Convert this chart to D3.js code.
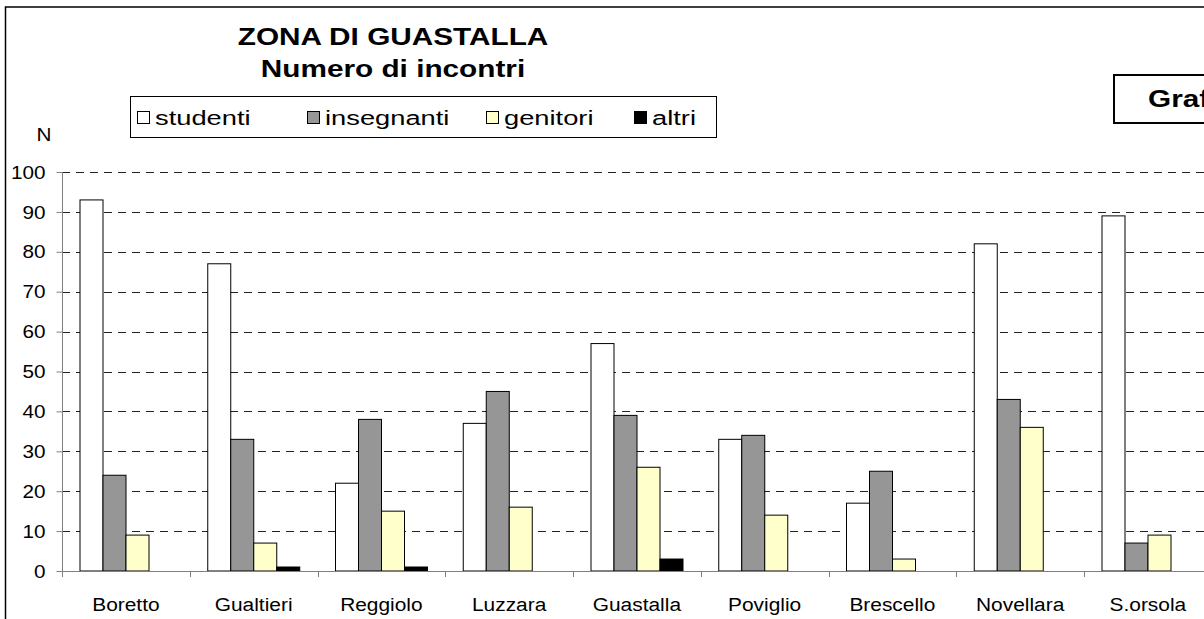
<!DOCTYPE html>
<html>
<head>
<meta charset="utf-8">
<script src="https://cdn.jsdelivr.net/npm/d3@7"></script>
<style>
  html, body { margin: 0; padding: 0; background: #fff; overflow: hidden; }
  svg { display: block; font-family: "Liberation Sans", Arial, sans-serif; }
</style>
</head>
<body>
<svg id="chart" width="1204" height="619"></svg>
<script>
// ---- data ----
const categories = ["Boretto", "Gualtieri", "Reggiolo", "Luzzara", "Guastalla", "Poviglio", "Brescello", "Novellara", "S.orsola"];
const seriesNames = ["studenti", "insegnanti", "genitori", "altri"];
const studenti    = [93, 77, 22, 37, 57, 33, 17, 82, 89];
const insegnanti  = [24, 33, 38, 45, 39, 34, 25, 43, 7];
const genitori    = [9, 7, 15, 16, 26, 14, 3, 36, 9];
const altri       = [0, 1, 1, 0, 3, 0, 0, 0, 0];
const yTicks      = [0, 10, 20, 30, 40, 50, 60, 70, 80, 90, 100];
const titleLines  = ["ZONA DI GUASTALLA", "Numero di incontri"];
const yAxisLabel  = "N";
const boxLabel    = "Grafico";

const seriesValues = [studenti, insegnanti, genitori, altri];
const colors = ["#FFFFFF", "#969696", "#FFFFCC", "#000000"];

// ---- layout ----
const svg = d3.select("#chart");
const band = 127.75;
const x0 = 62, yBase = 571, yTop = 172;

const x = d3.scaleBand().domain(categories).range([x0, x0 + band * categories.length]).paddingInner(0).paddingOuter(0);
const x1 = d3.scaleBand().domain(seriesNames).range([18, 110]).padding(0);
const y = d3.scaleLinear().domain([0, 100]).range([yBase, yTop]);

// outer frame
svg.append("rect").attr("x", 5.5).attr("y", 7).attr("width", 1300).attr("height", 700)
  .attr("fill", "none").attr("stroke", "#000").attr("stroke-width", 1.5);

// gridlines
svg.append("g").selectAll("line").data(yTicks.filter(d => d > 0)).join("line")
  .attr("x1", x0).attr("x2", 1204)
  .attr("y1", d => Math.round(y(d)) + 0.5).attr("y2", d => Math.round(y(d)) + 0.5)
  .attr("stroke", "#222").attr("stroke-width", 1).attr("stroke-dasharray", "8,6");

// bars
const groups = svg.append("g").selectAll("g").data(categories).join("g")
  .attr("transform", d => `translate(${x(d)},0)`);
groups.selectAll("rect").data((c, i) => seriesNames.map((s, k) => ({ s, v: seriesValues[k][i], k })))
  .join("rect")
  .filter(d => d.v > 0)
  .attr("x", d => x1(d.s))
  .attr("y", d => y(d.v))
  .attr("width", x1.bandwidth())
  .attr("height", d => yBase - y(d.v))
  .attr("fill", d => colors[d.k])
  .attr("stroke", "#000").attr("stroke-width", 1);

// y axis
const yAxis = svg.append("g").attr("transform", `translate(${x0 + 0.5},0)`)
  .call(d3.axisLeft(y).tickValues(yTicks).tickSize(6).tickPadding(11).tickSizeOuter(0));
yAxis.select(".domain").attr("stroke", "#808080").attr("d", `M0,${yTop}V${yBase + 6}`);
yAxis.selectAll(".tick line").attr("stroke", "#808080");
yAxis.selectAll(".tick text")
  .attr("font-size", 18).attr("fill", "#000")
  .attr("font-family", "Liberation Sans, Arial, sans-serif")
  .attr("transform", "scale(1.15,1)")
  .attr("x", -17 / 1.15).attr("dy", "0.34em");

// x axis
const xAxis = svg.append("g").attr("transform", `translate(0,${yBase + 0.5})`)
  .call(d3.axisBottom(x).tickSize(0).tickPadding(0).tickSizeOuter(0));
xAxis.select(".domain").attr("stroke", "#808080").attr("d", `M${x0},0H1204`);
xAxis.selectAll(".tick text")
  .attr("font-size", 19).attr("fill", "#000")
  .attr("font-family", "Liberation Sans, Arial, sans-serif")
  .attr("y", 0).attr("dy", 0)
  .attr("transform", "translate(0,39) scale(1.1,1)");
// boundary ticks
svg.append("g").selectAll("line").data(categories.map(c => x(c)).concat([x0 + band * categories.length]))
  .join("line")
  .attr("x1", d => Math.round(d) + 0.5).attr("x2", d => Math.round(d) + 0.5)
  .attr("y1", yBase).attr("y2", yBase + 6)
  .attr("stroke", "#808080");

// y axis label
svg.append("text").attr("transform", "translate(44,141) scale(1.15,1)")
  .attr("text-anchor", "middle").attr("font-size", 18).text(yAxisLabel);

// title
svg.append("g").selectAll("text").data(titleLines).join("text")
  .attr("transform", (d, i) => `translate(393,${45 + i * 32}) scale(1.24,1)`)
  .attr("text-anchor", "middle").attr("font-size", 24).attr("font-weight", "bold")
  .text(d => d);

// legend
const legend = svg.append("g");
legend.append("rect").attr("x", 130.5).attr("y", 96.5).attr("width", 586).attr("height", 41)
  .attr("fill", "#fff").attr("stroke", "#000").attr("stroke-width", 1);
const legendX = [137, 307, 486, 634];
const items = legend.selectAll("g.item").data(seriesNames).join("g").attr("class", "item")
  .attr("transform", (d, i) => `translate(${legendX[i]},0)`);
items.append("rect").attr("x", 0.5).attr("y", 111.5).attr("width", 12).attr("height", 12)
  .attr("fill", (d, i) => colors[i]).attr("stroke", "#000").attr("stroke-width", 1);
items.append("text").attr("transform", "translate(18,125) scale(1.3,1)")
  .attr("font-size", 21).text(d => d);

// right box
svg.append("rect").attr("x", 1114).attr("y", 75).attr("width", 200).attr("height", 48)
  .attr("fill", "#fff").attr("stroke", "#000").attr("stroke-width", 2);
svg.append("text").attr("transform", "translate(1148,107) scale(1.24,1)")
  .attr("font-size", 24).attr("font-weight", "bold").text(boxLabel);
</script>
</body>
</html>
